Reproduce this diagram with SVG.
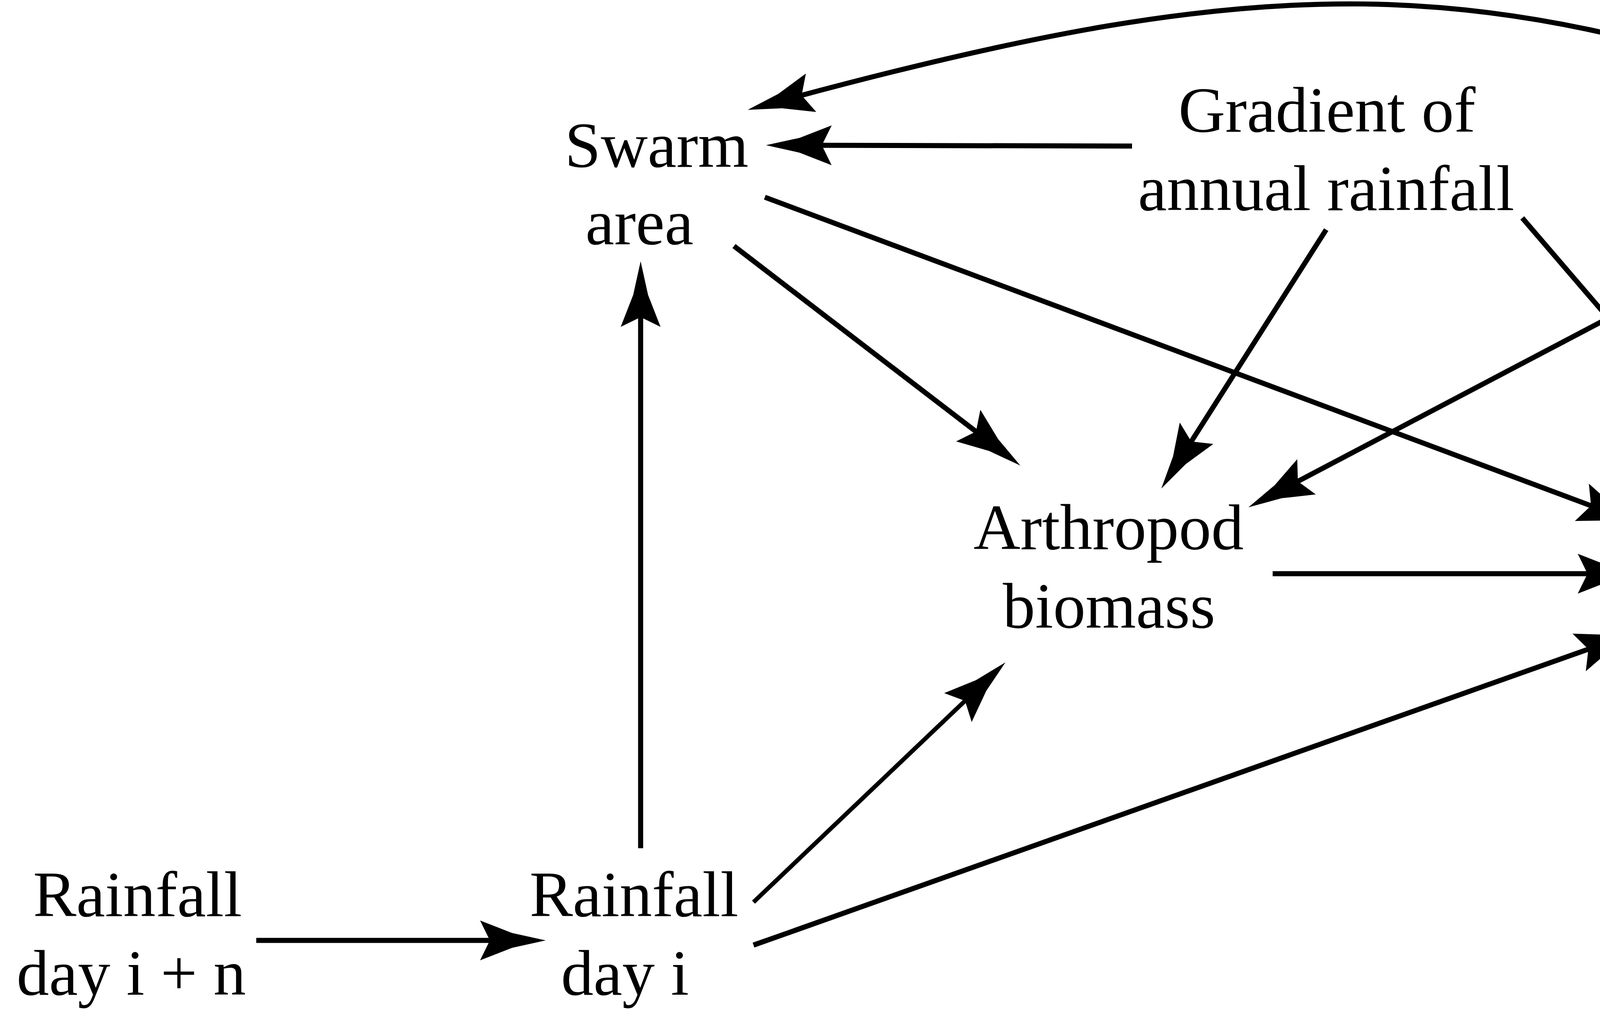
<svg xmlns="http://www.w3.org/2000/svg" width="5274" height="2599" viewBox="0 0 5274 2599">
<style>
text{font-family:"Liberation Serif","Times New Roman",serif;font-size:166px;fill:#000;text-anchor:middle}
.c{fill:none;stroke:#000;stroke-width:13;marker-end:url(#ah)}
.t{stroke-width:11}
</style>
<defs>
<marker id="ah" markerUnits="userSpaceOnUse" viewBox="-300 -60 320 120" markerWidth="320" markerHeight="120" refX="-120" refY="0" orient="auto">
<path d="M0,0 L-86,-19 L-168,-51 L-143,0 L-168,51 L-86,19 Z" fill="#000"/>
</marker>
</defs>
<rect x="0" y="0" width="5274" height="2599" fill="#fff"/>
<g id="connectors">
<path class="c" d="M4781,296 C3801,-80 3236,-75 2030,250"/>
<path class="c" d="M2898,374 L2081,372"/>
<path class="c" d="M1879,630 L2516.8,1119"/>
<path class="c" d="M1958,505 L4094.6,1303"/>
<path class="c" d="M3395,588 L3037.4,1149.8"/>
<path class="c" d="M3897,558 L4404.9,1149.9"/>
<path class="c" d="M4803,454 L3302.2,1243.2"/>
<path class="c" d="M5024,463 L4782,1128.2"/>
<path class="c" d="M3258,1469 L4087,1469"/>
<path class="c" d="M1929,2420 L4087.9,1654.6"/>
<path class="c t" d="M1929,2310 L2487.1,1778.7"/>
<path class="c" d="M1640,2172 L1640,789"/>
<path class="c" d="M656,2408 L1277,2408"/>
</g>
<g id="swarm-area"><text x="1681" y="427">Swarm</text><text x="1637" y="625">area</text></g>
<g id="gradient"><text x="3397" y="337">Gradient of</text><text x="3395" y="538">annual rainfall</text></g>
<g id="season"><text x="5036" y="422">Season</text></g>
<g id="arthropod"><text x="2838" y="1406">Arthropod</text><text x="2839" y="1607">biomass</text></g>
<g id="network"><text x="4541" y="1416">Network</text><text x="4542" y="1616">structure</text></g>
<g id="rain-in"><text x="352" y="2346">Rainfall</text><text x="336" y="2547">day i + n</text></g>
<g id="rain-i"><text x="1623" y="2346">Rainfall</text><text x="1600" y="2547">day i</text></g>
</svg>
